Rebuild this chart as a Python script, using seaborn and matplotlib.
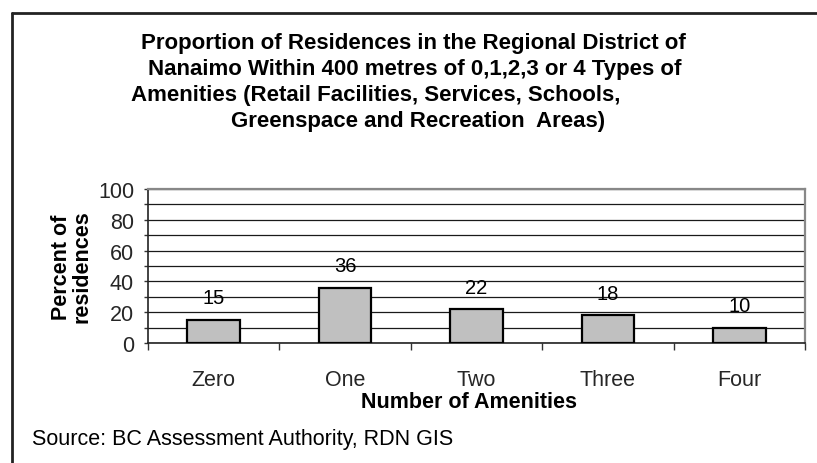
import matplotlib
matplotlib.use("Agg")
import matplotlib.pyplot as plt
from matplotlib.lines import Line2D
import seaborn as sns
import pandas as pd

categories = ["Zero", "One", "Two", "Three", "Four"]
percent = [15, 36, 22, 18, 10]
y_ticks = [0, 20, 40, 60, 80, 100]
title_lines = [
    "Proportion of Residences in the Regional District of",
    "Nanaimo Within 400 metres of 0,1,2,3 or 4 Types of",
    "Amenities (Retail Facilities, Services, Schools,",
    "Greenspace and Recreation  Areas)",
]
x_title = "Number of Amenities"
y_title = "Percent of\nresidences"
source = "Source: BC Assessment Authority, RDN GIS"

sns.set_theme(style="white")
plt.rcParams["font.family"] = ["Liberation Sans", "DejaVu Sans"]

W, H = 817, 464
fig = plt.figure(figsize=(W / 100, H / 100), dpi=100)
ax = fig.add_axes([148 / W, 1 - 344 / H, (805 - 148) / W, (344 - 190) / H])

df = pd.DataFrame({"amenities": categories, "percent": percent})
sns.barplot(data=df, x="amenities", y="percent", color="#c0c0c0",
            saturation=1, width=0.4, edgecolor="black", linewidth=1.6,
            ax=ax, zorder=3)

ax.set_xlim(-0.5, len(categories) - 0.5)
ax.set_ylim(0, 100)

# horizontal gridlines every 10 units
ax.set_yticks(y_ticks)
ax.set_yticks(range(10, 100, 20), minor=True)
ax.yaxis.grid(True, which="both", color="#1a1a1a", linewidth=0.9, zorder=0)
ax.set_axisbelow(True)
ax.tick_params(axis="y", which="both", direction="out", length=3, width=1,
               color="#333333", left=True, pad=7, labelsize=15.5)
ax.set_yticklabels([str(v) for v in y_ticks])

# category labels centred under bars, ticks at category boundaries
ax.set_xticks(range(len(categories)))
ax.set_xticklabels(categories)
ax.set_xticks([i - 0.5 for i in range(len(categories) + 1)], minor=True)
ax.tick_params(axis="x", which="major", length=0, pad=19, labelsize=15.5)
ax.tick_params(axis="x", which="minor", direction="out", length=5, width=1,
               color="#333333", bottom=True)

for side in ["left", "bottom"]:
    ax.spines[side].set_color("#222222")
    ax.spines[side].set_linewidth(1.2)
for side in ["top", "right"]:
    ax.spines[side].set_color("#888888")
    ax.spines[side].set_linewidth(1.6)
ax.spines["top"].set_zorder(4)

for i, v in enumerate(percent):
    ax.annotate(str(v), xy=(i, v), xytext=(0, 22), textcoords="offset pixels",
                ha="center", va="center", fontsize=14.5, color="black")

ax.set_xlabel(x_title, fontsize=15.5, fontweight="bold", color="black")
ax.xaxis.set_label_coords((469 - 148) / (805 - 148), -(403 - 344) / (344 - 190))
ax.xaxis.label.set_va("center")
ax.set_ylabel(y_title, fontsize=15.5, fontweight="bold", color="black",
              linespacing=0.95)
ax.yaxis.set_label_coords(-(148 - 72) / (805 - 148), 0.5)
ax.yaxis.label.set_va("center")

title_pos = [(141, 44), (148, 70), (131, 96), (231, 122)]
for line, (tx, ty) in zip(title_lines, title_pos):
    fig.text(tx / W, 1 - ty / H, line, ha="left", va="center",
             fontsize=16, fontweight="bold", color="black")

fig.text(32 / W, 1 - 440 / H, source, ha="left", va="center",
         fontsize=15.5, color="black")

# outer frame (top and left edges)
fig.add_artist(Line2D([12 / W, 1.0], [1 - 14 / H, 1 - 14 / H],
                      transform=fig.transFigure, color="#222222", linewidth=2))
fig.add_artist(Line2D([12 / W, 12 / W], [1 - 14 / H, 0.0],
                      transform=fig.transFigure, color="#222222", linewidth=2))

fig.savefig("out.png", dpi=100, facecolor="white")
